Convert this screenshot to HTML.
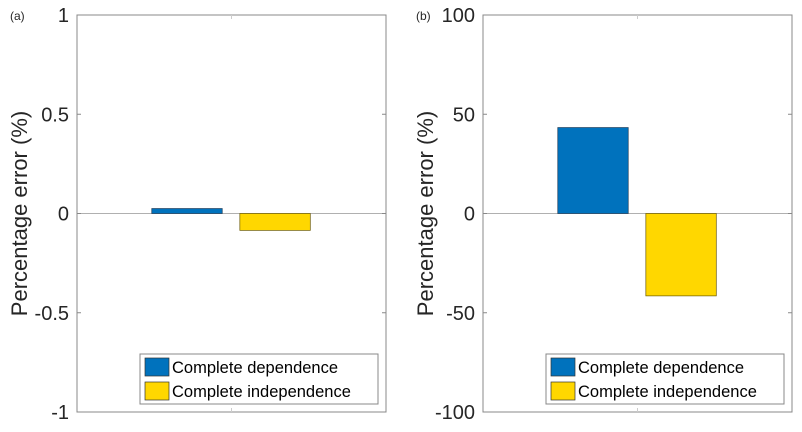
<!DOCTYPE html>
<html><head><meta charset="utf-8"><style>
body{margin:0;background:#fff;}
svg{display:block;font-family:"Liberation Sans",Arial,sans-serif;}
</style></head><body>
<svg id="c" width="802" height="432" viewBox="0 0 802 432"></svg>
<script>
const categories=["Complete dependence","Complete independence"];
const valuesA=[0.025,-0.085];
const valuesB=[43.3,-41.5];
const ticksA=[-1,-0.5,0,0.5,1];
const ticksB=[-100,-50,0,50,100];
const tickLabelsA=["-1","-0.5","0","0.5","1"];
const tickLabelsB=["-100","-50","0","50","100"];
const colors=["#0072BD","#FFD700"];
const NS="http://www.w3.org/2000/svg";
const svg=document.getElementById('c');
function mk(tag,attrs,parent){const e=document.createElementNS(NS,tag);for(const k in attrs)e.setAttribute(k,attrs[k]);(parent||svg).appendChild(e);return e;}
function panel(id,x0,x1,ymin,ymax,vals,ticks,labels,letter){
  const y0=15,y1=412;
  const g=mk('g',{});
  
  
  const ys=v=>y1-(v-ymin)/(ymax-ymin)*(y1-y0);
  const W=x1-x0;
  const xs=i=>x0+W*(0.242+i*0.285);
  const bw=W*0.228;
  // zero line
  const zl=mk('line',{x1:x0,x2:x1,y1:ys(0),y2:ys(0),stroke:'#b0b0b0','stroke-width':1},g);
  
  
  vals.forEach((v,i)=>{
    const top=Math.min(ys(v),ys(0)),h=Math.abs(ys(v)-ys(0));
    const r=mk('rect',{x:xs(i),y:top,width:bw,height:h,fill:colors[i],stroke:i?'#6b5a00':'#1a3b5a','stroke-width':0.7},g);
    
    
  });
  const ax=mk('rect',{x:x0,y:y0,width:W,height:y1-y0,fill:'none',stroke:'#888','stroke-width':1},g);
  
  
  ticks.forEach((t,i)=>{
    const y=ys(t);
    mk('line',{x1:x0,x2:x0+4,y1:y,y2:y,stroke:'#888'},g);
    mk('line',{x1:x1-4,x2:x1,y1:y,y2:y,stroke:'#888'},g);
    const tx=mk('text',{x:x0-8,y:y+7,'text-anchor':'end','font-size':20,fill:'#262626'},g);
    tx.textContent=labels[i];
    
    
  });
  const xm=(x0+x1)/2;
  mk('line',{x1:xm,x2:xm,y1:y0,y2:y0+4,stroke:'#ccc'},g);
  mk('line',{x1:xm,x2:xm,y1:y1-4,y2:y1,stroke:'#ccc'},g);
  const tt=mk('text',{x:0,y:0,'text-anchor':'middle','font-size':22,fill:'#262626',transform:`translate(${x0-50},${(y0+y1)/2}) rotate(-90)`},g);
  tt.textContent='Percentage error (%)';
  
  
  const pl=mk('text',{x:x0-67,y:20,'font-size':12,fill:'#262626'},g);
  pl.textContent=letter;
  
  
  // legend
  const lx=x0+63,ly=354;
  const lg=mk('g',{},g);
  
  
  mk('rect',{x:lx,y:ly,width:238,height:50,fill:'#fff',stroke:'#888','stroke-width':1},lg);
  categories.forEach((c,i)=>{
    const sw=mk('rect',{x:lx+5,y:ly+4+i*24,width:24,height:18,fill:colors[i],stroke:'#333','stroke-width':0.7},lg);
    
    
    const t=mk('text',{x:lx+32,y:ly+19+i*24,'font-size':16.5,fill:'#000'},lg);
    t.textContent=c;
    
    
  });
}
panel('a',77,386,-1,1,valuesA,ticksA,tickLabelsA,'(a)');
panel('b',483,792,-100,100,valuesB,ticksB,tickLabelsB,'(b)');
</script>
</body></html>
